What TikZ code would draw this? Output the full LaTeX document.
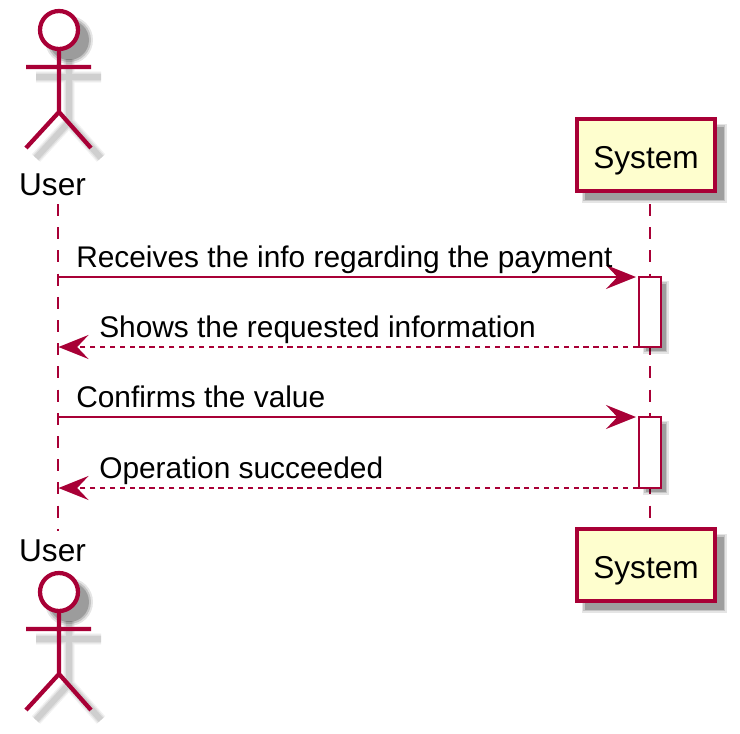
\documentclass[tikz,border=0pt]{standalone}
\usepackage{fontspec}
\setmainfont{Liberation Sans}
\usetikzlibrary{arrows.meta}
\definecolor{umlred}{HTML}{A80036}
\definecolor{umlfill}{HTML}{FEFECE}
\tikzset{
	lbl/.style={font=\fontsize{23.7}{28}\selectfont, inner sep=0pt, text=black},
	msglbl/.style={lbl, font=\fontsize{22.4}{26}\selectfont, anchor=base west},
	lifeline/.style={umlred, line width=1.5pt, dash pattern=on 9pt off 8.4pt},
	msg/.style={umlred, line width=1.6pt, -{Stealth[length=22.5pt,width=18pt,inset=8.5pt]}},
	reply/.style={msg, line width=1.7pt, dash pattern=on 3.9pt off 3.5pt},
	actorline/.style={umlred, line width=3.2pt},
	partbox/.style={lbl, draw=umlred, fill=umlfill, line width=3.2pt, minimum width=103.5pt, minimum height=54pt, text height=19.5pt, text depth=0pt},
	actbox/.style={draw=umlred, fill=white, line width=1.7pt}
}
% soft shadow: same shape a few times, wider and paler
\newcommand{\softshadow}[1]{
	\foreach \w/\o in {8.5pt/0.05, 6.5pt/0.07, 4.5pt/0.08}{
		\draw[black, opacity=\o, line width=\w] #1;
	}
}
\newcommand{\softbox}[4]{
	\foreach \g/\o in {2.5/0.10, 1/0.14, -0.5/0.20}{
		\fill[black, opacity=\o] (#1-\g,#2-\g) rectangle (#3+\g,#4+\g);
	}
}
\newcommand{\stickman}[2]{
	\begin{scope}[shift={(#1,#2)}]
		\foreach \r/\o in {24/0.10, 22/0.15, 20/0.20}{
			\fill[black, opacity=\o] (10,10) circle (\r);
		}
		\softshadow{(10,29) -- (10,92) (-23,47) -- (42,47) (-23,128) -- (10,92) -- (42,128)}
		\draw[actorline, fill=white] (0,0) circle (19);
		\draw[actorline] (0,19) -- (0,82) (-33,37) -- (32,37) (-33,118) -- (0,82) -- (32,118);
	\end{scope}
}
\begin{document}
\begin{tikzpicture}[x=0.75pt, y=-0.75pt]
	\useasboundingbox (0,0) rectangle (740,733);

	%lifelines
	\coordinate (userTop) at (57.5,204);
	\coordinate (userBot) at (57.5,531);
	\coordinate (sysTopEnd) at (650,204);
	\coordinate (sysBotEnd) at (650,528);
	\draw[lifeline] (userTop) -- (userBot);
	\draw[lifeline] (sysTopEnd) -- (sysBotEnd);

	%actors
	\stickman{59}{30}
	\stickman{59}{592}
	\node[lbl, anchor=base] (userHead) at (52.5,195) {User};
	\node[lbl, anchor=base] (userFoot) at (52.5,561.5) {User};

	%boxes
	\softbox{584}{126}{724}{200}
	\softbox{584}{536}{724}{610}
	\node[partbox] (sysHead) at (646,155) {System};
	\node[partbox] (sysFoot) at (646,565) {System};

	%activations
	\softbox{645}{283}{666}{351}
	\softbox{645}{423}{666}{492}
	\node[actbox, minimum width=17pt, minimum height=52.5pt, inner sep=0pt] (actA) at (650,312) {};
	\node[actbox, minimum width=17pt, minimum height=53pt, inner sep=0pt] (actB) at (650,452.5) {};

	%messages
	\coordinate (uA) at (57.5,277);
	\coordinate (uB) at (58.5,347);
	\coordinate (uC) at (57.5,417);
	\coordinate (uD) at (58.5,488);
	\coordinate (sA) at (636,277);
	\coordinate (sB) at (638,347);
	\coordinate (sC) at (636,417);
	\coordinate (sD) at (638,488);
	\draw[msg] (uA) -- (sA);
	\draw[reply] (sB) -- (uB);
	\draw[msg] (uC) -- (sC);
	\draw[reply] (sD) -- (uD);

	%names
	\node[msglbl] (recv) at (76,267) {Receives the info regarding the payment};
	\node[msglbl] (show) at (99,337) {Shows the requested information};
	\node[msglbl] (conf) at (76,407) {Confirms the value};
	\node[msglbl] (oper) at (99,478) {Operation succeeded};
\end{tikzpicture}
\end{document}
